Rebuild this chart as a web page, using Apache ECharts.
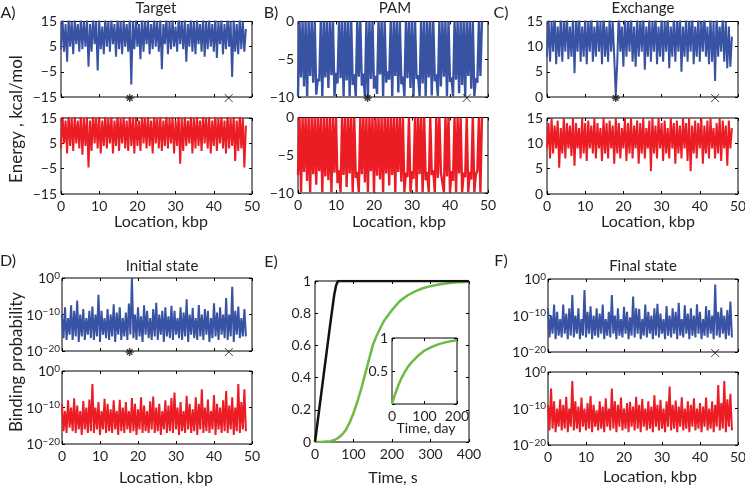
<!DOCTYPE html>
<html>
<head>
<meta charset="utf-8">
<script src="https://cdn.jsdelivr.net/npm/echarts@6/dist/echarts.min.js"></script>
<style>
  html, body { margin: 0; padding: 0; background: #fff; }
  #chart { width: 745px; height: 487px; }
</style>
</head>
<body>
<div id="chart"></div>
<script>
// sampling step along the genome, kbp
const kbpStep = 0.4;

// A) Target energy, kcal/mol
const targetTop = [
  4, 16, 3, 14, -1, 17, 5, 15, 2, 16,
  6, 14, 3, 17, 4, 15, 5, 16, -3, 14,
  3, 17, 6, 15, -4.5, 16, 4, 13, 2, 17,
  5, 15, 3, 16, 6, 14, 1, 17, 4, 15,
  2, 16, 5, 14, 3, 17, -10, 15, 4, 16,
  5, 14, 0, 17, 3, 15, 6, 16, 2, 14,
  4, 17, 5, 15, 3, 16, -4, 14, 6, 17,
  2, 15, 4, 16, 5, 13, 3, 17, 6, 15,
  4, 16, -1, 14, 5, 17, 3, 15, 2, 16,
  6, 14, 3, 17, 1, 15, 4, 16, 5, 14,
  3, 17, 0.5, 15, 6, 16, 2, 14, 4, 17,
  5, 15, -7, 16, 3, 14, 2, 17, 4, 15,
  3, 12
];
const targetBottom = [
  3, 16, 5, 14, 1, 17, 4, 15, 2, 16,
  5, 14, 3, 17, 0.5, 15, 4, 16, -4.5, 14,
  2, 17, 5, 15, 3, 16, 1, 14, 4, 17,
  3, 15, 5, 16, 1, 14, 4, 17, 2, 15,
  5, 16, 3, 14, 2, 17, 4, 15, 1, 16,
  4, 14, 2, 17, 5, 15, 3, 16, 4, 14,
  1, 17, 5, 15, 3, 16, 2, 14, 4, 17,
  3, 15, 5, 16, 1, 14, 4, 17, -3, 15,
  2, 16, 4, 14, 5, 17, 1, 15, 3, 16,
  4, 14, 2, 17, 5, 15, 3, 16, 1, 14,
  4, 17, 2, 15, 5, 16, 3, 14, 1, 17,
  3, 15, 4, 16, -2, 14, 2, 17, 3, 15,
  -4.5, 12
];

// B) PAM energy
const pamTop = [
  -9.8, 0, -7.4, 0, -8.6, 0, -9.9, 0, -7.2, 0,
  -8.1, 0, -9.7, -7.6, -7.9, 0, -9.9, 0, -7.4, 0,
  -8.8, 0, -7.1, 0, -9.9, -6.8, -8.2, 0, -7.5, 0,
  -9.9, 0, -7.8, 0, -9.9, 0, -8.4, -7.0, -9.9, 0,
  -7.3, 0, -8.5, -6.9, -9.9, 0, -9.9, 0, -7.6, 0,
  -8.9, -7.2, -9.6, 0, -7.0, 0, -9.9, 0, -8.1, -6.6,
  -7.7, 0, -9.9, 0, -7.2, 0, -9.4, 0, -8.3, -7.3,
  -9.9, 0, -7.5, 0, -8.8, 0, -9.9, 0, -7.6, -7.1,
  -9.9, 0, -8.2, 0, -9.9, 0, -7.4, 0, -9.8, 0,
  -7.9, -7.0, -9.9, 0, -8.6, 0, -7.3, 0, -9.9, 0,
  -8.0, -7.4, -9.9, 0, -7.7, 0, -9.5, 0, -8.4, 0,
  -9.9, 0, -7.2, 0, -8.9, 0, -9.9, -7.5, -8.1, 0,
  -7.2, 0
];
const pamBottom = [
  -7.6, 0, -9.9, 0, -7.2, 0, -8.4, 0, -9.9, 0,
  -7.5, 0, -8.9, 0, -7.1, 0, -9.9, 0, -7.8, 0,
  -8.3, 0, -9.9, 0, -7.3, 0, -8.7, -7.0, -9.9, 0,
  -7.6, 0, -9.2, 0, -7.4, 0, -9.9, 0, -8.0, -7.2,
  -9.9, 0, -7.5, 0, -8.6, 0, -9.9, 0, -7.1, 0,
  -9.9, 0, -7.7, 0, -8.2, 0, -9.9, 0, -7.4, 0,
  -9.0, 0, -7.6, 0, -9.9, 0, -7.2, 0, -8.5, 0,
  -9.9, -7.3, -7.9, 0, -9.9, -7.1, -8.1, 0, -9.9, 0,
  -7.5, 0, -9.9, 0, -8.3, -7.2, -9.9, 0, -7.6, -7.0,
  -9.9, 0, -8.0, 0, -7.3, -7.5, -9.9, 0, -7.8, 0,
  -9.9, -7.1, -8.4, 0, -9.9, 0, -7.4, 0, -9.9, -7.3,
  -7.9, 0, -9.9, -7.2, -8.2, 0, -9.9, -7.5, -7.1, 0,
  -9.9, 0
];

// C) Exchange energy
const exchTop = [
  8, 16, 7, 15, 9, 17, 6.5, 14, 8, 16,
  7, 15, 9, 17, 7.5, 14, 8, 16, 4.7, 15,
  9, 17, 7, 14, 8, 16, 6.5, 15, 9, 17,
  7, 14, 8, 16, 9, 15, 6.5, 17, 8, 14,
  7, 16, 9, 15, 8, 0.3, 7, 17, 9, 14,
  6, 16, 8, 15, 9, 17, 7, 14, 6, 16,
  8, 15, 9, 17, 5.4, 14, 8, 16, 7, 15,
  9, 17, 6.5, 14, 8, 16, 7, 15, 9, 17,
  5.7, 14, 8, 16, 7, 15, 9, 17, 5, 14,
  8, 16, 7, 15, 9, 17, 6.5, 14, 8, 16,
  7, 15, 9, 17, 8, 14, 6.5, 16, 7, 15,
  3.2, 17, 8, 14, 9, 16, 7, 15, 5.7, 14,
  6, 12
];
const exchBottom = [
  9, 14, 7, 15, 8, 13.5, 9, 14.5, 5.2, 13,
  8, 15, 7, 14, 9, 13.5, 7.5, 15, 5.6, 14,
  9, 13, 7, 15, 8, 14, 6.5, 14.5, 9, 13.5,
  8, 15, 7, 14, 9, 13, 6.5, 15, 8, 14,
  7, 14.5, 9, 13.5, 6, 15, 8, 14, 7, 13,
  9, 15, 6.5, 14, 8, 15, 7, 13.5, 9, 14.5,
  6, 14, 8, 15, 7, 13, 9, 14.5, 4.5, 15,
  8, 13.5, 7, 15, 9, 14, 6.5, 14.5, 8, 13,
  7, 15, 9, 14, 6, 14.5, 8, 13.5, 7, 15,
  9, 14, 6.5, 15, 4.5, 13.5, 8, 14.5, 7, 14,
  9, 15, 6, 13.5, 8, 14.5, 7, 15, 9, 13,
  7, 14, 8, 15, 6.5, 14.5, 9, 13.5, 5.6, 14.5,
  9, 13
];

// D) Initial state, log10 of binding probability
const initTop = [
  -10, -16.5, -8, -17, -11, -15.5, -7.5, -17, -9, -16,
  -6.2, -17.5, -10, -16, -8.5, -17, -11, -15.5, -9, -16.5,
  -7.8, -17, -10, -16, -4.6, -17.5, -9, -15.5, -11, -16.5,
  -8.5, -17, -10, -16, -7.2, -17.5, -9.5, -15.5, -8, -17,
  -11, -16, -9.5, -17, -7, -15.5, 0, -16.5, -10, -17,
  -8, -16, -10.5, -17.5, -7.5, -15.5, -9, -16.5, -11, -17,
  -8.5, -16, -6.8, -17, -10, -15.5, -9, -17.5, -8, -16,
  -10.5, -16.5, -7.6, -17, -9, -15.5, -11, -16.5, -8, -17,
  -9.5, -16, -5.8, -17.5, -10, -15.5, -8.2, -16.5, -11, -17,
  -7.4, -16, -10, -17, -8.5, -15.5, -9, -17.5, -11, -16.5,
  -6.9, -16, -9.5, -17, -8, -15.5, -10, -16.5, -5.5, -17,
  -10, -16, -2.4, -17.5, -9, -15.5, -7.8, -16.5, -11, -16,
  -8.5, -16
];
const initBottom = [
  -9, -16.5, -11, -17, -8, -15.5, -10, -16.5, -7.5, -17,
  -9.5, -16, -11, -17.5, -8.2, -16, -10, -17, -7.8, -16.5,
  -3.6, -17, -10, -16, -8.5, -17.5, -11, -16, -7.6, -17,
  -9, -16.5, -10.5, -17, -8, -16, -11, -17.5, -7.9, -16.5,
  -10, -17, -8.5, -16, -11, -17, -7.4, -16.5, -9, -17.5,
  -10.5, -16, -7.2, -17, -9.5, -16.5, -11, -17, -8.3, -16,
  -7, -17, -10, -16.5, -9, -17.5, -11, -16, -8, -17,
  -9.5, -16.5, -7.4, -17, -5.9, -16, -10, -17.5, -8.5, -16.5,
  -11, -17, -6.8, -16, -9, -17, -10.5, -16.5, -7.2, -17.5,
  -9, -16, -5, -17, -10, -16.5, -7.8, -17, -11, -16,
  -6.6, -17.5, -9, -16, -10, -17, -8, -16.5, -5.5, -17,
  -9.5, -16, -7.2, -17.5, -10, -16.5, -3.6, -17, -8.5, -16,
  -5, -16.5
];

// F) Final state, log10 of binding probability
const finalTop = [
  -8, -16, -10, -15, -7, -16.5, -9, -15.5, -11, -16,
  -7, -15, -9.5, -16.5, -8, -15.5, -4.4, -16, -10, -15,
  -8, -16.5, -11, -15.5, -3, -16, -9, -15, -7.5, -16.5,
  -10, -15.5, -8, -16, -9.5, -15, -7, -16.5, -11, -15.5,
  -9, -16, -4.4, -15, -10, -16.5, -8, -15.5, -11, -16,
  -7.6, -15, -9, -16.5, -10.5, -15.5, -4.8, -16, -8, -15,
  -8.2, -16.5, -11, -15.5, -7, -16, -9, -15, -10, -16.5,
  -8, -15.5, -6.8, -16, -9.5, -15, -11, -16.5, -7.4, -15.5,
  -10, -16, -8, -15, -9, -16.5, -6.5, -15.5, -11, -16,
  -7.2, -15, -9.5, -16.5, -8, -15.5, -10, -16, -6.9, -15,
  -9, -16.5, -11, -15.5, -7.5, -16, -8.5, -15, -10, -16.5,
  -1.5, -15.5, -9, -16, -7.8, -15, -10, -16.5, -8.5, -15.5,
  -6.2, -16
];
const finalBottom = [
  -9, -16, -4.5, -15.5, -8, -16.5, -10, -15, -7.5, -16,
  -9, -15.5, -6.8, -16.5, -10, -15, -2.5, -16, -8, -15.5,
  -9.5, -16.5, -7, -15, -10, -16, -8.5, -15.5, -6.6, -16.5,
  -9, -15, -10.5, -16, -8, -15.5, -9.5, -16.5, -7.2, -15,
  -10, -16, -4.5, -15.5, -8, -16.5, -9, -15, -7, -16,
  -10, -15.5, -8.5, -16.5, -8.2, -15, -9.5, -16, -6.8, -15.5,
  -9, -16.5, -7.4, -15, -10, -16, -8, -15.5, -9.5, -16.5,
  -6.4, -15, -9, -16, -7.6, -15.5, -10, -16.5, -8, -15,
  -4, -16, -9, -15.5, -7.8, -16.5, -9.5, -15, -6.9, -16,
  -10, -15.5, -8, -16.5, -9, -15, -7.2, -16, -10, -15.5,
  -8.5, -16.5, -9.5, -15, -7, -16, -10, -15.5, -8, -16.5,
  -9, -15, -3.6, -16, -8.5, -15.5, -2.5, -16.5, -7.5, -15,
  -6, -16
];

// markers under the upper traces, kbp
const starKbp = { A: 18, B: 18.3, C: 18, D: 17.8 };
const crossKbp = { A: 43.9, B: 44.4, C: 44, D: 43.9, F: 44 };

// E) time courses
const fastTime = [0, 10, 20, 30, 40, 50, 55, 60, 400];
const fastFrac = [0, 0.185, 0.37, 0.555, 0.74, 0.915, 0.975, 1, 1];
const slowTime = [0, 20, 40, 50, 60, 70, 80, 90, 100, 110, 120, 130, 140, 150, 160, 170, 180, 200, 220, 240, 260, 280, 300, 325, 350, 375, 400];
const slowFrac = [0, 0.001, 0.005, 0.012, 0.025, 0.045, 0.075, 0.12, 0.18, 0.25, 0.33, 0.42, 0.51, 0.6, 0.66, 0.71, 0.755, 0.82, 0.875, 0.91, 0.935, 0.955, 0.968, 0.98, 0.988, 0.993, 0.996];
const dayTime = [0, 5, 10, 20, 30, 40, 50, 60, 80, 100, 120, 140, 160, 180, 200];
const dayFrac = [0, 0.08, 0.16, 0.29, 0.4, 0.49, 0.57, 0.63, 0.73, 0.81, 0.86, 0.9, 0.93, 0.95, 0.965];

const FONT = 'Lato';
const INK = '#231f20';
const BLUE = '#3953a4';
const RED = '#ec1c24';
const GREEN = '#6cbb45';

const grids = [];
const xAxes = [];
const yAxes = [];
const series = [];

const minusSign = (v) => String(v).replace('-', '\u2212');
const powTen = (v) => '{b|10}{s|' + (v === 0 ? '0' : '\u2212' + (-v)) + '}';

function tickStyle() {
  return { show: true, inside: true, length: 3, lineStyle: { color: '#000', width: 1 } };
}

function addBox(box, xs, ys, showX) {
  const gi = grids.length;
  grids.push({
    left: box[0], top: box[1], width: box[2], height: box[3],
    show: true, borderColor: '#000', borderWidth: 1, backgroundColor: '#fff',
    containLabel: false, outerBoundsMode: 'none',
  });
  const labelFont = { fontFamily: FONT, fontSize: 14, color: INK };
  ['bottom', 'top'].forEach((pos) => {
    xAxes.push({
      gridIndex: gi, type: 'value', position: pos,
      min: xs.min, max: xs.max, interval: xs.interval,
      axisLine: { show: false, onZero: false }, axisTick: tickStyle(), splitLine: { show: false },
      axisLabel: Object.assign({
        show: pos === 'bottom' && showX, margin: 5,
        showMinLabel: true, showMaxLabel: true,
        formatter: xs.fmt || ((v) => String(v)),
      }, labelFont),
    });
  });
  ['left', 'right'].forEach((pos) => {
    yAxes.push({
      gridIndex: gi, type: 'value', position: pos,
      min: ys.min, max: ys.max, interval: ys.interval,
      axisLine: { show: false, onZero: false }, axisTick: tickStyle(), splitLine: { show: false },
      axisLabel: Object.assign({
        show: pos === 'left', margin: ys.margin || 4,
        showMinLabel: true, showMaxLabel: true,
        formatter: ys.fmt || ((v) => String(v)),
        rich: {
          b: { fontFamily: FONT, fontSize: 14, color: INK, lineHeight: 15, verticalAlign: 'bottom' },
          s: { fontFamily: FONT, fontSize: 10, color: INK, lineHeight: 11, verticalAlign: 'top', padding: [0, 0, 9, 0] },
        },
      }, labelFont),
    });
  });
  return gi;
}

function addTrace(gi, xsArr, ysArr, color, width) {
  series.push({
    type: 'line', xAxisIndex: 2 * gi, yAxisIndex: 2 * gi,
    data: xsArr.map((x, i) => [x, ysArr[i]]),
    showSymbol: false, symbol: 'none', clip: true,
    lineStyle: { color, width }, z: 3,
  });
}

function addGenome(gi, vals, color, width) {
  const loc = vals.map((_, i) => +(i * kbpStep).toFixed(1));
  addTrace(gi, loc, vals, color, width);
}

const STAR = 'path://M5,0L5,10M0,5L10,5M1.5,1.5L8.5,8.5M8.5,1.5L1.5,8.5';
const CROSS = 'path://M0,0L10,10M10,0L0,10';

function addMarks(gi, yMin, star, cross) {
  const mk = (x, sym, w) => ({
    value: [x, yMin], symbol: sym,
    itemStyle: { color: 'none', borderColor: '#111', borderWidth: w },
  });
  const data = [];
  if (star != null) data.push(mk(star, STAR, 1.4));
  if (cross != null) data.push(mk(cross, CROSS, 1));
  series.push({
    type: 'scatter', xAxisIndex: 2 * gi, yAxisIndex: 2 * gi,
    data, symbolSize: 8, symbolOffset: [0, 1], clip: false, z: 5,
  });
}

const locAxis = { min: 0, max: 50, interval: 10 };
const energyA = { min: -15, max: 15, interval: 10, fmt: minusSign };
const energyB = { min: -10, max: 0, interval: 5, fmt: minusSign };
const energyC = { min: 0, max: 15, interval: 5 };
const probAxis = { min: -20, max: 0, interval: 10, fmt: powTen, margin: 2 };

const NOISE_W = 2;
const PAM_W = 2.4;

// A
let g = addBox([61, 21.5, 191, 75.5], locAxis, energyA, false);
addGenome(g, targetTop, BLUE, NOISE_W);
addMarks(g, -15, starKbp.A, crossKbp.A);
g = addBox([61, 118, 191, 76], locAxis, energyA, true);
addGenome(g, targetBottom, RED, NOISE_W);

// B
g = addBox([298, 21.5, 190, 75.5], locAxis, energyB, false);
addGenome(g, pamTop, BLUE, PAM_W);
addMarks(g, -10, starKbp.B, crossKbp.B);
g = addBox([298, 117.5, 190, 75.5], locAxis, energyB, true);
addGenome(g, pamBottom, RED, PAM_W);

// C
g = addBox([547, 21.5, 191, 75.5], locAxis, energyC, false);
addGenome(g, exchTop, BLUE, NOISE_W);
addMarks(g, 0, starKbp.C, crossKbp.C);
g = addBox([547, 118, 191, 76], locAxis, energyC, true);
addGenome(g, exchBottom, RED, NOISE_W);

// D
g = addBox([62, 278, 190, 73], locAxis, probAxis, false);
addGenome(g, initTop, BLUE, NOISE_W);
addMarks(g, -20, starKbp.D, crossKbp.D);
g = addBox([62, 371, 190, 73], locAxis, probAxis, true);
addGenome(g, initBottom, RED, NOISE_W);

// F
g = addBox([548, 279, 190, 73], locAxis, probAxis, false);
addGenome(g, finalTop, BLUE, NOISE_W);
addMarks(g, -20, null, crossKbp.F);
g = addBox([548, 372, 190, 73], locAxis, probAxis, true);
addGenome(g, finalBottom, RED, NOISE_W);

// E
g = addBox([315, 281, 154, 161], { min: 0, max: 400, interval: 100 }, { min: 0, max: 1, interval: 0.2 }, true);
addTrace(g, slowTime, slowFrac, GREEN, 2.5);
addTrace(g, fastTime, fastFrac, '#111', 2.5);
g = addBox([392, 338, 65, 66], { min: 0, max: 200, interval: 100 },
  { min: 0, max: 1, interval: 0.5, fmt: (v) => (v === 0 ? '' : String(v)) }, true);
addTrace(g, dayTime, dayFrac, GREEN, 2.5);

function txt(text, x, y, size, extra) {
  return Object.assign({
    type: 'text', x, y, z: 10,
    style: {
      text, fill: INK, font: size + 'px ' + FONT,
      textAlign: 'center', textVerticalAlign: 'middle',
    },
  }, extra || {});
}

const labels = [
  txt('A)', 8, 13, 16), txt('B)', 271, 13, 16), txt('C)', 501, 13, 16),
  txt('D)', 8, 261, 16), txt('E)', 271, 262, 16), txt('F)', 501, 261, 16),
  txt('Target', 156, 8, 15), txt('PAM', 395, 8, 15), txt('Exchange', 643, 8, 15),
  txt('Initial state', 162, 266, 15), txt('Final state', 643, 266, 15),
  txt('Location, kbp', 161, 222, 16), txt('Location, kbp', 399, 222, 16),
  txt('Location, kbp', 648, 222, 16), txt('Location, kbp', 166, 478, 16),
  txt('Location, kbp', 650, 477, 16), txt('Time, s', 393, 478, 16),
  txt('Time, day', 426, 428, 14),
  txt('Energy , kcal/mol', 17, 119, 17, { rotation: Math.PI / 2 }),
  txt('Binding probability', 17, 362, 17, { rotation: Math.PI / 2 }),
];

const chart = echarts.init(document.getElementById('chart'), null, { renderer: 'canvas' });
chart.setOption({
  animation: false,
  backgroundColor: '#fff',
  grid: grids,
  xAxis: xAxes,
  yAxis: yAxes,
  series,
  graphic: labels,
});
</script>
</body>
</html>
